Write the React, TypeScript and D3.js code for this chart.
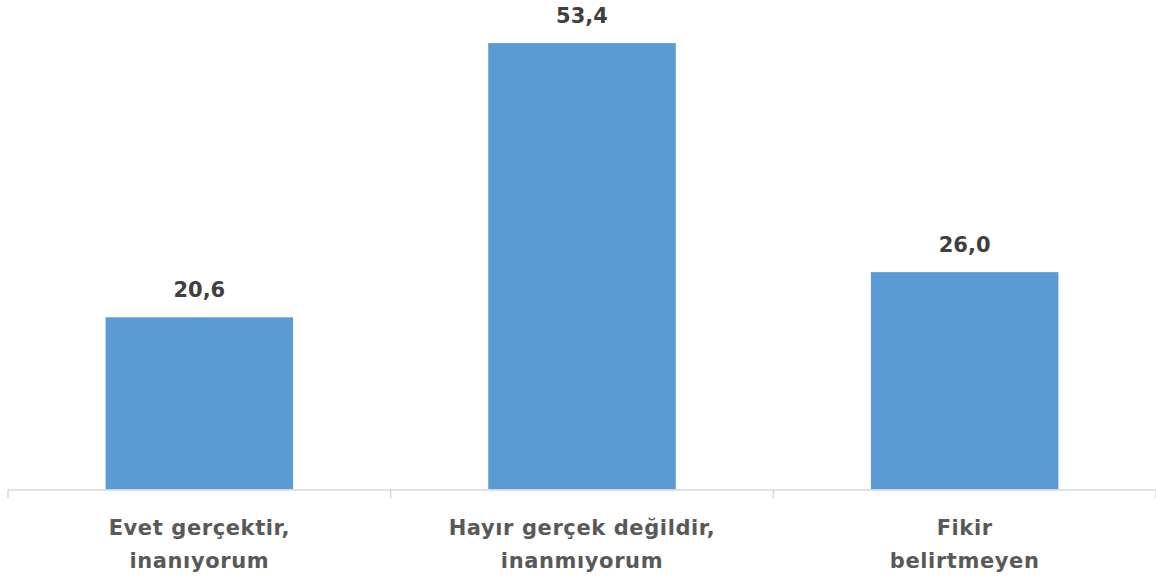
import React from "react";
import * as d3 from "d3";

// categories, split into lines as in the source chart
const categories = ["Evet gerçektir, inanıyorum", "Hayır gerçek değildir, inanmıyorum", "Fikir belirtmeyen"];
const categoryLines = [
  ["Evet gerçektir,", "inanıyorum"],
  ["Hayır gerçek değildir,", "inanmıyorum"],
  ["Fikir", "belirtmeyen"],
];
const values = [20.6, 53.4, 26.0];
const valueLabels = ["20,6", "53,4", "26,0"];

export default function App() {
  const width = 1156;
  const height = 580;
  const baseline = 489.5;

  const x = d3.scaleBand<string>()
    .domain(categories)
    .range([8, 1156])
    .paddingInner(0.51)
    .paddingOuter(0.255);

  const y = d3.scaleLinear().domain([0, 60]).range([baseline, baseline - 60 * 8.36]);

  const font = "'DejaVu Sans', sans-serif";
  const step = x.step();

  return (
    <svg width={width} height={height} style={{ position: "absolute", left: 0, top: 0 }}>
      <rect width={width} height={height} fill="#fff" />
      {categories.map((c, i) => (
        <g key={c}>
          <rect x={x(c)} y={y(values[i])} width={x.bandwidth()} height={baseline - y(values[i])} fill="#5b9bd5" />
          <text
            x={x(c)! + x.bandwidth() / 2}
            y={y(values[i]) - 20}
            textAnchor="middle"
            fontFamily={font}
            fontWeight="bold"
            fontSize={21}
            fill="#404040"
          >
            {valueLabels[i]}
          </text>
          <text
            x={x(c)! + x.bandwidth() / 2}
            textAnchor="middle"
            fontFamily={font}
            fontWeight="bold"
            fontSize={21}
            letterSpacing={0.6}
            fill="#595959"
          >
            {categoryLines[i].map((l, j) => (
              <tspan key={j} x={x(c)! + x.bandwidth() / 2} y={535 + j * 33}>{l}</tspan>
            ))}
          </text>
        </g>
      ))}
      {/* category axis */}
      <line x1={8} x2={1156} y1={baseline + 0.5} y2={baseline + 0.5} stroke="#d9d9d9" strokeWidth={1.5} />
      {d3.range(categories.length + 1).map((k) => (
        <line
          key={k}
          x1={8 + k * step}
          x2={8 + k * step}
          y1={baseline}
          y2={baseline + 9}
          stroke="#d9d9d9"
          strokeWidth={1.5}
        />
      ))}
    </svg>
  );
}
